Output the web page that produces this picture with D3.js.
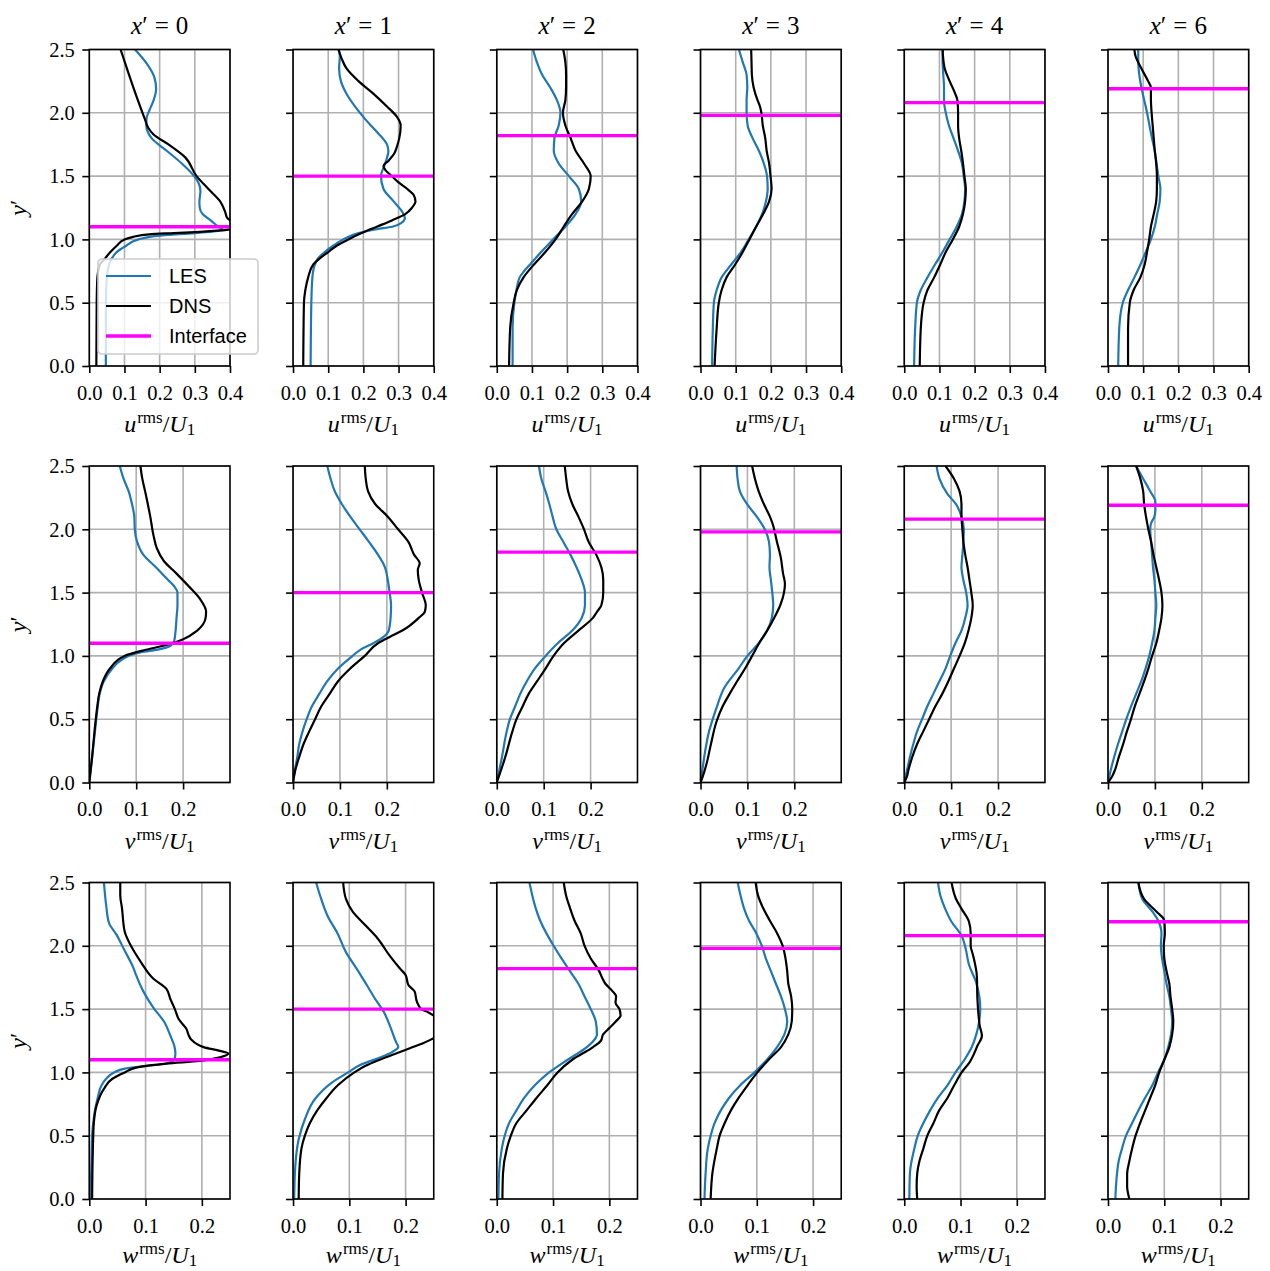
<!DOCTYPE html>
<html>
<head>
<meta charset="utf-8">
<script src="https://cdn.jsdelivr.net/npm/d3@7"></script>
<style>
  body { margin: 0; background: #fff; }
  svg { display: block; }
  .serif { font-family: 'Liberation Serif', 'Times New Roman', serif; fill: #000; }
  .tick text { font-family: 'Liberation Serif', 'Times New Roman', serif; font-size: 20.5px; fill: #000; }
  .legend text { font-family: 'Liberation Sans', Arial, sans-serif; font-size: 20px; fill: #000; }
</style>
</head>
<body>
<svg id="chart"></svg>
<script>
// Streamwise stations and interface heights (one per column).
const xStations = [0, 1, 2, 3, 4, 6];
const interfaceY = [1.1, 1.5, 1.82, 1.98, 2.08, 2.19];
const yTicks = [0, 0.5, 1, 1.5, 2, 2.5];
const uTicks = [0, 0.1, 0.2, 0.3, 0.4];
const vTicks = [0, 0.1, 0.2];
const wTicks = [0, 0.1, 0.2];

// Profiles: each point is [y', rms / U1], one profile per station.
const uLES = [
  [[0,0.047],[0.4,0.047],[0.6,0.048],[0.7,0.05],[0.8,0.056],[0.85,0.064],[0.9,0.078],[0.95,0.105],[1.0,0.14],[1.03,0.2],[1.05,0.3],[1.065,0.36],[1.08,0.378],[1.1,0.367],[1.15,0.345],[1.2,0.322],[1.25,0.314],[1.3,0.313],[1.38,0.316],[1.45,0.31],[1.5,0.298],[1.6,0.263],[1.7,0.22],[1.8,0.177],[1.85,0.166],[1.9,0.162],[1.96,0.163],[2.02,0.171],[2.1,0.183],[2.19,0.19],[2.28,0.185],[2.39,0.163],[2.5,0.13]],
  [[0,0.05],[0.5,0.052],[0.7,0.055],[0.8,0.062],[0.85,0.071],[0.9,0.09],[0.95,0.114],[1.0,0.143],[1.05,0.186],[1.08,0.238],[1.1,0.282],[1.13,0.308],[1.17,0.318],[1.22,0.31],[1.3,0.286],[1.4,0.257],[1.5,0.25],[1.6,0.262],[1.7,0.271],[1.75,0.267],[1.85,0.238],[1.95,0.205],[2.05,0.176],[2.15,0.152],[2.25,0.136],[2.35,0.131],[2.45,0.133],[2.5,0.13]],
  [[0,0.045],[0.3,0.045],[0.5,0.05],[0.6,0.056],[0.7,0.065],[0.75,0.078],[0.8,0.094],[0.9,0.126],[1.0,0.16],[1.1,0.195],[1.2,0.224],[1.3,0.24],[1.4,0.233],[1.5,0.205],[1.6,0.176],[1.7,0.162],[1.8,0.164],[1.9,0.176],[2.0,0.181],[2.1,0.171],[2.2,0.152],[2.3,0.129],[2.4,0.114],[2.5,0.103]],
  [[0,0.033],[0.3,0.035],[0.5,0.038],[0.6,0.046],[0.7,0.06],[0.8,0.087],[0.9,0.115],[1.0,0.137],[1.1,0.158],[1.2,0.175],[1.3,0.186],[1.4,0.191],[1.5,0.189],[1.6,0.18],[1.7,0.166],[1.8,0.148],[1.9,0.134],[2.0,0.131],[2.1,0.131],[2.2,0.133],[2.3,0.131],[2.4,0.12],[2.5,0.109]],
  [[0,0.028],[0.3,0.031],[0.5,0.036],[0.6,0.047],[0.7,0.066],[0.8,0.087],[0.9,0.109],[1.0,0.129],[1.1,0.149],[1.2,0.164],[1.3,0.171],[1.4,0.173],[1.5,0.169],[1.6,0.164],[1.7,0.153],[1.8,0.14],[1.9,0.127],[2.0,0.118],[2.1,0.113],[2.2,0.113],[2.3,0.111],[2.4,0.109],[2.5,0.109]],
  [[0,0.029],[0.3,0.032],[0.5,0.042],[0.6,0.057],[0.7,0.075],[0.8,0.092],[0.9,0.107],[1.0,0.122],[1.1,0.133],[1.2,0.14],[1.3,0.147],[1.4,0.149],[1.5,0.143],[1.6,0.138],[1.7,0.133],[1.8,0.125],[1.9,0.118],[2.0,0.111],[2.1,0.103],[2.2,0.095],[2.3,0.089],[2.4,0.086],[2.5,0.086]]
];
const uDNS = [
  [[0,0.02],[0.5,0.021],[0.7,0.023],[0.8,0.03],[0.85,0.045],[0.9,0.06],[0.95,0.078],[1.0,0.1],[1.02,0.125],[1.04,0.17],[1.05,0.24],[1.06,0.315],[1.075,0.39],[1.09,0.41],[1.12,0.41],[1.15,0.4],[1.17,0.392],[1.22,0.386],[1.3,0.372],[1.4,0.338],[1.5,0.305],[1.65,0.272],[1.75,0.225],[1.83,0.182],[1.88,0.168],[1.95,0.158],[2.1,0.138],[2.3,0.113],[2.5,0.089]],
  [[0,0.029],[0.5,0.031],[0.6,0.035],[0.7,0.043],[0.8,0.057],[0.85,0.076],[0.9,0.1],[0.95,0.124],[1.0,0.157],[1.05,0.195],[1.1,0.238],[1.15,0.281],[1.2,0.319],[1.25,0.338],[1.3,0.348],[1.35,0.343],[1.4,0.324],[1.45,0.3],[1.5,0.281],[1.55,0.262],[1.58,0.257],[1.62,0.271],[1.68,0.288],[1.73,0.295],[1.8,0.302],[1.9,0.306],[1.97,0.295],[2.05,0.267],[2.15,0.229],[2.25,0.186],[2.35,0.152],[2.43,0.138],[2.5,0.129]],
  [[0,0.035],[0.3,0.038],[0.5,0.048],[0.6,0.057],[0.7,0.076],[0.8,0.105],[0.9,0.138],[1.0,0.167],[1.1,0.19],[1.2,0.214],[1.3,0.243],[1.4,0.262],[1.5,0.267],[1.6,0.248],[1.7,0.224],[1.8,0.21],[1.9,0.195],[2.0,0.188],[2.1,0.195],[2.2,0.197],[2.3,0.197],[2.4,0.195],[2.5,0.189]],
  [[0,0.04],[0.3,0.046],[0.5,0.052],[0.6,0.06],[0.7,0.074],[0.8,0.098],[0.9,0.12],[1.0,0.139],[1.1,0.158],[1.2,0.178],[1.3,0.195],[1.4,0.202],[1.5,0.199],[1.6,0.195],[1.7,0.188],[1.8,0.184],[1.9,0.177],[2.0,0.173],[2.05,0.169],[2.1,0.162],[2.2,0.151],[2.3,0.146],[2.4,0.145],[2.5,0.144]],
  [[0,0.044],[0.3,0.047],[0.5,0.055],[0.6,0.066],[0.7,0.085],[0.8,0.102],[0.9,0.118],[1.0,0.138],[1.1,0.156],[1.2,0.167],[1.3,0.173],[1.4,0.175],[1.5,0.171],[1.6,0.167],[1.7,0.162],[1.8,0.156],[1.9,0.153],[2.0,0.153],[2.1,0.151],[2.15,0.145],[2.25,0.129],[2.35,0.115],[2.45,0.11],[2.5,0.109]],
  [[0,0.057],[0.3,0.057],[0.5,0.062],[0.6,0.073],[0.7,0.092],[0.8,0.104],[0.9,0.111],[1.0,0.117],[1.1,0.122],[1.2,0.13],[1.3,0.137],[1.4,0.139],[1.5,0.139],[1.6,0.137],[1.7,0.133],[1.8,0.13],[1.9,0.127],[2.0,0.124],[2.1,0.122],[2.2,0.122],[2.25,0.114],[2.35,0.095],[2.45,0.078],[2.5,0.075]]
];
const vLES = [
  [[0,0],[0.2,0.006],[0.4,0.012],[0.6,0.018],[0.7,0.022],[0.8,0.031],[0.9,0.049],[0.95,0.062],[1.0,0.084],[1.03,0.111],[1.05,0.146],[1.08,0.173],[1.12,0.181],[1.2,0.184],[1.3,0.186],[1.4,0.188],[1.5,0.188],[1.55,0.181],[1.6,0.168],[1.7,0.142],[1.8,0.115],[1.9,0.102],[2.0,0.097],[2.1,0.096],[2.2,0.091],[2.3,0.084],[2.4,0.073],[2.5,0.065]],
  [[0,0],[0.1,0.004],[0.2,0.009],[0.3,0.013],[0.4,0.02],[0.5,0.029],[0.6,0.04],[0.7,0.056],[0.8,0.073],[0.9,0.096],[1.0,0.127],[1.05,0.144],[1.1,0.171],[1.15,0.193],[1.2,0.204],[1.3,0.208],[1.4,0.209],[1.5,0.206],[1.6,0.202],[1.7,0.196],[1.8,0.181],[1.9,0.162],[2.0,0.142],[2.1,0.122],[2.2,0.104],[2.3,0.089],[2.4,0.08],[2.5,0.073]],
  [[0,0],[0.2,0.011],[0.4,0.021],[0.5,0.028],[0.6,0.039],[0.7,0.05],[0.8,0.064],[0.9,0.081],[1.0,0.104],[1.1,0.13],[1.2,0.161],[1.3,0.181],[1.4,0.188],[1.5,0.188],[1.6,0.181],[1.7,0.17],[1.8,0.157],[1.9,0.142],[2.0,0.127],[2.1,0.119],[2.2,0.112],[2.3,0.104],[2.4,0.095],[2.5,0.09]],
  [[0,0],[0.1,0.004],[0.25,0.01],[0.4,0.018],[0.5,0.026],[0.6,0.035],[0.75,0.051],[0.9,0.081],[1.0,0.1],[1.1,0.124],[1.2,0.142],[1.3,0.152],[1.4,0.155],[1.5,0.153],[1.6,0.15],[1.7,0.147],[1.8,0.148],[1.9,0.146],[2.0,0.137],[2.1,0.12],[2.2,0.099],[2.3,0.084],[2.4,0.079],[2.5,0.077]],
  [[0,0],[0.1,0.006],[0.2,0.012],[0.3,0.019],[0.4,0.027],[0.5,0.038],[0.6,0.049],[0.7,0.062],[0.8,0.075],[0.9,0.088],[1.0,0.098],[1.1,0.109],[1.2,0.122],[1.3,0.13],[1.4,0.135],[1.5,0.132],[1.6,0.126],[1.7,0.122],[1.8,0.124],[1.9,0.126],[2.0,0.127],[2.1,0.122],[2.2,0.11],[2.28,0.092],[2.4,0.075],[2.5,0.069]],
  [[0,0],[0.1,0.006],[0.2,0.013],[0.3,0.021],[0.4,0.03],[0.5,0.039],[0.6,0.049],[0.7,0.06],[0.8,0.071],[0.9,0.08],[1.0,0.088],[1.1,0.094],[1.2,0.099],[1.3,0.101],[1.4,0.103],[1.5,0.101],[1.6,0.099],[1.7,0.096],[1.8,0.094],[1.9,0.092],[2.0,0.09],[2.05,0.092],[2.1,0.099],[2.15,0.101],[2.22,0.101],[2.3,0.09],[2.4,0.075],[2.5,0.06]]
];
const vDNS = [
  [[0,0],[0.2,0.006],[0.4,0.011],[0.6,0.017],[0.7,0.021],[0.8,0.029],[0.9,0.044],[1.0,0.075],[1.04,0.111],[1.07,0.146],[1.1,0.177],[1.13,0.199],[1.2,0.23],[1.3,0.248],[1.35,0.249],[1.45,0.236],[1.55,0.212],[1.65,0.186],[1.75,0.159],[1.85,0.144],[1.95,0.137],[2.1,0.13],[2.3,0.119],[2.4,0.113],[2.5,0.109]],
  [[0,0],[0.1,0.005],[0.2,0.013],[0.3,0.022],[0.4,0.034],[0.5,0.047],[0.6,0.06],[0.7,0.078],[0.8,0.096],[0.9,0.122],[1.0,0.153],[1.1,0.181],[1.15,0.206],[1.2,0.233],[1.3,0.268],[1.35,0.281],[1.4,0.283],[1.5,0.275],[1.6,0.268],[1.68,0.266],[1.73,0.27],[1.8,0.258],[1.9,0.246],[2.0,0.224],[2.1,0.202],[2.2,0.175],[2.3,0.16],[2.4,0.155],[2.5,0.153]],
  [[0,0],[0.2,0.018],[0.4,0.033],[0.5,0.042],[0.6,0.055],[0.7,0.068],[0.8,0.086],[0.9,0.104],[1.0,0.121],[1.1,0.143],[1.2,0.174],[1.3,0.205],[1.35,0.214],[1.4,0.223],[1.5,0.227],[1.6,0.227],[1.7,0.223],[1.8,0.212],[1.9,0.196],[2.0,0.186],[2.1,0.174],[2.2,0.161],[2.3,0.152],[2.4,0.148],[2.5,0.145]],
  [[0,0],[0.05,0.005],[0.15,0.013],[0.3,0.022],[0.48,0.034],[0.6,0.047],[0.7,0.062],[0.8,0.078],[0.9,0.095],[1.0,0.11],[1.1,0.125],[1.2,0.142],[1.3,0.157],[1.4,0.17],[1.5,0.178],[1.57,0.18],[1.65,0.176],[1.78,0.171],[1.9,0.163],[2.04,0.154],[2.1,0.148],[2.2,0.135],[2.3,0.124],[2.4,0.116],[2.5,0.11]],
  [[0,0],[0.05,0.006],[0.1,0.009],[0.2,0.017],[0.3,0.027],[0.4,0.04],[0.5,0.053],[0.6,0.066],[0.7,0.081],[0.8,0.094],[0.9,0.106],[1.0,0.118],[1.1,0.129],[1.2,0.137],[1.3,0.143],[1.4,0.146],[1.5,0.143],[1.6,0.139],[1.7,0.135],[1.8,0.13],[1.9,0.126],[2.0,0.124],[2.1,0.122],[2.2,0.122],[2.3,0.118],[2.4,0.106],[2.5,0.088]],
  [[0,0],[0.05,0.009],[0.1,0.015],[0.2,0.023],[0.3,0.032],[0.4,0.04],[0.5,0.049],[0.6,0.057],[0.7,0.067],[0.8,0.077],[0.9,0.086],[1.0,0.094],[1.1,0.103],[1.2,0.109],[1.3,0.114],[1.4,0.116],[1.5,0.114],[1.6,0.109],[1.7,0.103],[1.8,0.097],[1.9,0.092],[2.0,0.086],[2.1,0.081],[2.2,0.077],[2.3,0.075],[2.4,0.069],[2.5,0.06]]
];
const wLES = [
  [[0,0.002],[0.3,0.004],[0.5,0.005],[0.6,0.007],[0.7,0.01],[0.8,0.015],[0.9,0.022],[0.95,0.03],[1.0,0.044],[1.03,0.063],[1.05,0.1],[1.07,0.137],[1.1,0.151],[1.15,0.153],[1.21,0.151],[1.29,0.144],[1.4,0.133],[1.51,0.114],[1.64,0.096],[1.77,0.083],[1.83,0.078],[1.96,0.063],[2.09,0.048],[2.18,0.035],[2.32,0.03],[2.5,0.026]],
  [[0,0.002],[0.26,0.004],[0.47,0.01],[0.63,0.021],[0.79,0.039],[0.92,0.069],[1.0,0.098],[1.06,0.12],[1.11,0.15],[1.16,0.176],[1.2,0.187],[1.24,0.183],[1.37,0.172],[1.48,0.161],[1.58,0.146],[1.69,0.131],[1.82,0.113],[1.95,0.094],[2.09,0.08],[2.24,0.061],[2.37,0.05],[2.5,0.041]],
  [[0,0.003],[0.2,0.004],[0.4,0.009],[0.5,0.014],[0.6,0.022],[0.7,0.035],[0.8,0.049],[0.9,0.068],[1.0,0.093],[1.1,0.126],[1.2,0.16],[1.25,0.172],[1.3,0.178],[1.4,0.176],[1.5,0.167],[1.6,0.156],[1.7,0.145],[1.8,0.13],[1.9,0.115],[2.0,0.101],[2.1,0.088],[2.2,0.077],[2.3,0.069],[2.4,0.063],[2.5,0.058]],
  [[0,0.007],[0.2,0.009],[0.4,0.013],[0.5,0.018],[0.6,0.025],[0.7,0.036],[0.8,0.051],[0.9,0.071],[1.0,0.096],[1.1,0.118],[1.2,0.136],[1.3,0.149],[1.4,0.154],[1.5,0.15],[1.6,0.143],[1.7,0.134],[1.8,0.125],[1.9,0.116],[2.0,0.109],[2.1,0.099],[2.2,0.086],[2.3,0.077],[2.4,0.071],[2.5,0.066]],
  [[0,0.009],[0.2,0.01],[0.4,0.018],[0.5,0.024],[0.6,0.034],[0.7,0.046],[0.8,0.06],[0.9,0.077],[1.0,0.091],[1.1,0.107],[1.2,0.12],[1.3,0.128],[1.4,0.133],[1.5,0.135],[1.58,0.134],[1.72,0.127],[1.85,0.115],[1.98,0.109],[2.08,0.102],[2.19,0.084],[2.29,0.073],[2.4,0.064],[2.5,0.06]],
  [[0,0.013],[0.2,0.016],[0.3,0.019],[0.4,0.025],[0.5,0.032],[0.6,0.043],[0.7,0.054],[0.8,0.066],[0.9,0.079],[1.0,0.089],[1.1,0.1],[1.2,0.107],[1.3,0.112],[1.4,0.114],[1.5,0.112],[1.6,0.109],[1.7,0.104],[1.8,0.1],[1.9,0.096],[2.0,0.094],[2.1,0.095],[2.2,0.089],[2.27,0.079],[2.37,0.061],[2.5,0.054]]
];
const wDNS = [
  [[0,0.005],[0.5,0.007],[0.6,0.008],[0.74,0.013],[0.87,0.026],[0.95,0.041],[1.0,0.063],[1.04,0.085],[1.07,0.137],[1.09,0.196],[1.12,0.232],[1.15,0.247],[1.17,0.232],[1.2,0.203],[1.26,0.181],[1.3,0.176],[1.34,0.173],[1.42,0.159],[1.5,0.152],[1.58,0.144],[1.66,0.137],[1.74,0.114],[1.87,0.092],[2.0,0.074],[2.11,0.063],[2.3,0.058],[2.4,0.055],[2.5,0.055]],
  [[0,0.01],[0.2,0.011],[0.4,0.015],[0.5,0.021],[0.6,0.03],[0.7,0.043],[0.8,0.06],[0.9,0.08],[1.0,0.109],[1.05,0.128],[1.1,0.154],[1.15,0.183],[1.2,0.213],[1.23,0.231],[1.27,0.25],[1.32,0.275],[1.37,0.285],[1.42,0.27],[1.45,0.25],[1.48,0.238],[1.5,0.228],[1.56,0.22],[1.64,0.216],[1.69,0.205],[1.77,0.2],[1.82,0.19],[1.92,0.172],[2.06,0.15],[2.16,0.129],[2.27,0.106],[2.37,0.094],[2.5,0.089]],
  [[0,0.01],[0.2,0.011],[0.4,0.018],[0.5,0.025],[0.6,0.035],[0.7,0.053],[0.8,0.071],[0.9,0.09],[1.0,0.108],[1.1,0.134],[1.2,0.171],[1.25,0.185],[1.3,0.189],[1.35,0.2],[1.4,0.211],[1.45,0.22],[1.5,0.218],[1.55,0.211],[1.6,0.212],[1.65,0.204],[1.7,0.193],[1.75,0.187],[1.8,0.182],[1.9,0.167],[2.0,0.156],[2.1,0.149],[2.2,0.138],[2.3,0.13],[2.4,0.123],[2.5,0.119]],
  [[0,0.018],[0.2,0.021],[0.4,0.029],[0.5,0.034],[0.6,0.043],[0.7,0.054],[0.8,0.068],[0.9,0.084],[1.0,0.101],[1.1,0.121],[1.2,0.143],[1.3,0.156],[1.4,0.162],[1.5,0.163],[1.6,0.161],[1.7,0.156],[1.8,0.154],[1.9,0.151],[2.0,0.146],[2.1,0.136],[2.2,0.123],[2.3,0.111],[2.4,0.102],[2.5,0.098]],
  [[0,0.023],[0.1,0.022],[0.2,0.023],[0.3,0.027],[0.4,0.034],[0.5,0.041],[0.6,0.052],[0.7,0.062],[0.8,0.077],[0.9,0.089],[1.0,0.102],[1.08,0.116],[1.21,0.13],[1.29,0.138],[1.37,0.134],[1.45,0.132],[1.58,0.13],[1.76,0.129],[1.93,0.122],[2.0,0.118],[2.1,0.118],[2.19,0.115],[2.29,0.102],[2.37,0.092],[2.5,0.084]],
  [[0,0.038],[0.1,0.034],[0.2,0.034],[0.3,0.038],[0.4,0.043],[0.5,0.049],[0.6,0.057],[0.7,0.066],[0.8,0.075],[0.9,0.084],[1.0,0.091],[1.1,0.1],[1.2,0.109],[1.3,0.114],[1.4,0.116],[1.5,0.114],[1.6,0.111],[1.7,0.109],[1.8,0.104],[1.9,0.1],[2.0,0.099],[2.1,0.101],[2.2,0.1],[2.27,0.086],[2.37,0.064],[2.5,0.054]]
];

const rows = [
  { comp: 'u', les: uLES, dns: uDNS, xMax: 0.4, ticks: uTicks },
  { comp: 'v', les: vLES, dns: vDNS, xMax: 0.3, ticks: vTicks },
  { comp: 'w', les: wLES, dns: wDNS, xMax: 0.25, ticks: wTicks },
];

const width = 1270;
const height = 1271;
// Subplot grid geometry (px).
const axLeft0 = 89.3;
const colStep = 203.74;
const axW = 140.7;
const axTop0 = 49.5;
const rowStep = 416.5;
const axH = 316.5;

const lesColor = '#1f77b4';
const dnsColor = '#000000';
const ifColor = '#ff00ff';

const svg = d3.select('#chart')
  .attr('width', width)
  .attr('height', height)
  .attr('viewBox', `0 0 ${width} ${height}`);

svg.append('rect').attr('width', width).attr('height', height).attr('fill', '#fff');
const defs = svg.append('defs');

const yScale = d3.scaleLinear().domain([0, 2.5]).range([axH, 0]);

rows.forEach((row, r) => {
  const xScale = d3.scaleLinear().domain([0, row.xMax]).range([0, axW]);
  const line = d3.line()
    .x((d) => xScale(d[1]))
    .y((d) => yScale(d[0]))
    .curve(d3.curveMonotoneY);

  xStations.forEach((xs, c) => {
    const g = svg.append('g')
      .attr('transform', `translate(${axLeft0 + c * colStep},${axTop0 + r * rowStep})`);
    const clipId = `clip-${r}-${c}`;
    defs.append('clipPath').attr('id', clipId)
      .append('rect').attr('width', axW).attr('height', axH);

    // Grid.
    const grid = g.append('g').attr('stroke', '#b0b0b0').attr('stroke-width', 1.6);
    grid.selectAll('.gx').data(row.ticks).join('line')
      .attr('x1', (d) => xScale(d)).attr('x2', (d) => xScale(d))
      .attr('y1', 0).attr('y2', axH);
    grid.selectAll('.gy').data(yTicks).join('line')
      .attr('y1', (d) => yScale(d)).attr('y2', (d) => yScale(d))
      .attr('x1', 0).attr('x2', axW);

    // Profiles.
    const plot = g.append('g').attr('clip-path', `url(#${clipId})`);
    plot.append('path').datum(row.les[c])
      .attr('d', line).attr('fill', 'none')
      .attr('stroke', lesColor).attr('stroke-width', 2.2).attr('stroke-linejoin', 'round');
    plot.append('path').datum(row.dns[c])
      .attr('d', line).attr('fill', 'none')
      .attr('stroke', dnsColor).attr('stroke-width', 2.2).attr('stroke-linejoin', 'round');
    plot.append('line')
      .attr('x1', 0).attr('x2', axW)
      .attr('y1', yScale(interfaceY[c])).attr('y2', yScale(interfaceY[c]))
      .attr('stroke', ifColor).attr('stroke-width', 3.4);

    // Spines.
    g.append('rect').attr('width', axW).attr('height', axH)
      .attr('fill', 'none').attr('stroke', '#000').attr('stroke-width', 1.6);

    // Axes.
    const xAxis = d3.axisBottom(xScale)
      .tickValues(row.ticks).tickFormat(d3.format('.1f'))
      .tickSize(7).tickSizeOuter(0);
    g.append('g').attr('transform', `translate(0,${axH})`).call(xAxis)
      .call((a) => a.select('.domain').remove())
      .call((a) => a.selectAll('line').attr('stroke', '#000').attr('stroke-width', 1.6))
      .call((a) => a.selectAll('text').attr('y', 33.5).attr('dy', null));

    const yAxis = d3.axisLeft(yScale)
      .tickValues(yTicks).tickFormat(c === 0 ? d3.format('.1f') : () => '')
      .tickSize(7).tickSizeOuter(0);
    g.append('g').call(yAxis)
      .call((a) => a.select('.domain').remove())
      .call((a) => a.selectAll('line').attr('stroke', '#000').attr('stroke-width', 1.6))
      .call((a) => a.selectAll('text').attr('x', -14.5).attr('dy', '0.33em'));

    // Title for the top row.
    if (r === 0) {
      const t = g.append('text').attr('class', 'serif')
        .attr('x', axW / 2).attr('y', -15.5)
        .attr('text-anchor', 'middle').attr('font-size', 25);
      t.append('tspan').attr('font-style', 'italic').text('x');
      t.append('tspan').text('\u2032');
      t.append('tspan').attr('dx', 7).text('=');
      t.append('tspan').attr('dx', 7).text(xs);
    }

    // x label (the bottom row sits a little higher to stay inside the page).
    const xl = g.append('text').attr('class', 'serif')
      .attr('x', axW / 2).attr('y', axH + (r === 2 ? 63.5 : 66))
      .attr('text-anchor', 'middle').attr('font-size', 24);
    xl.append('tspan').attr('font-style', 'italic').text(row.comp);
    xl.append('tspan').attr('font-size', 17).attr('dx', 1).attr('dy', -9).text('rms');
    xl.append('tspan').attr('dy', 9).text('/');
    xl.append('tspan').attr('font-style', 'italic').text('U');
    xl.append('tspan').attr('font-size', 17).attr('dy', 3).text('1');

    // y label on the first column.
    if (c === 0) {
      const yl = g.append('text').attr('class', 'serif')
        .attr('transform', `translate(-63,${axH / 2}) rotate(-90)`)
        .attr('text-anchor', 'middle').attr('font-size', 24);
      yl.append('tspan').attr('font-style', 'italic').text('y');
      yl.append('tspan').text('\u2032');
    }

    // Legend in the first panel.
    if (r === 0 && c === 0) {
      const entries = [
        { label: 'LES', color: lesColor, w: 2.2 },
        { label: 'DNS', color: dnsColor, w: 2.2 },
        { label: 'Interface', color: ifColor, w: 3.4 },
      ];
      const lg = g.append('g').attr('class', 'legend').attr('transform', 'translate(8.7,209.5)');
      lg.append('rect').attr('width', 160).attr('height', 95).attr('rx', 4)
        .attr('fill', '#fff').attr('fill-opacity', 0.8)
        .attr('stroke', '#cccccc').attr('stroke-width', 1.6);
      const item = lg.selectAll('.item').data(entries).join('g')
        .attr('transform', (d, i) => `translate(0,${17 + i * 30})`);
      item.append('line').attr('x1', 8).attr('x2', 53)
        .attr('stroke', (d) => d.color).attr('stroke-width', (d) => d.w);
      item.append('text').attr('x', 71).attr('y', 7).text((d) => d.label);
    }
  });
});
</script>
</body>
</html>
